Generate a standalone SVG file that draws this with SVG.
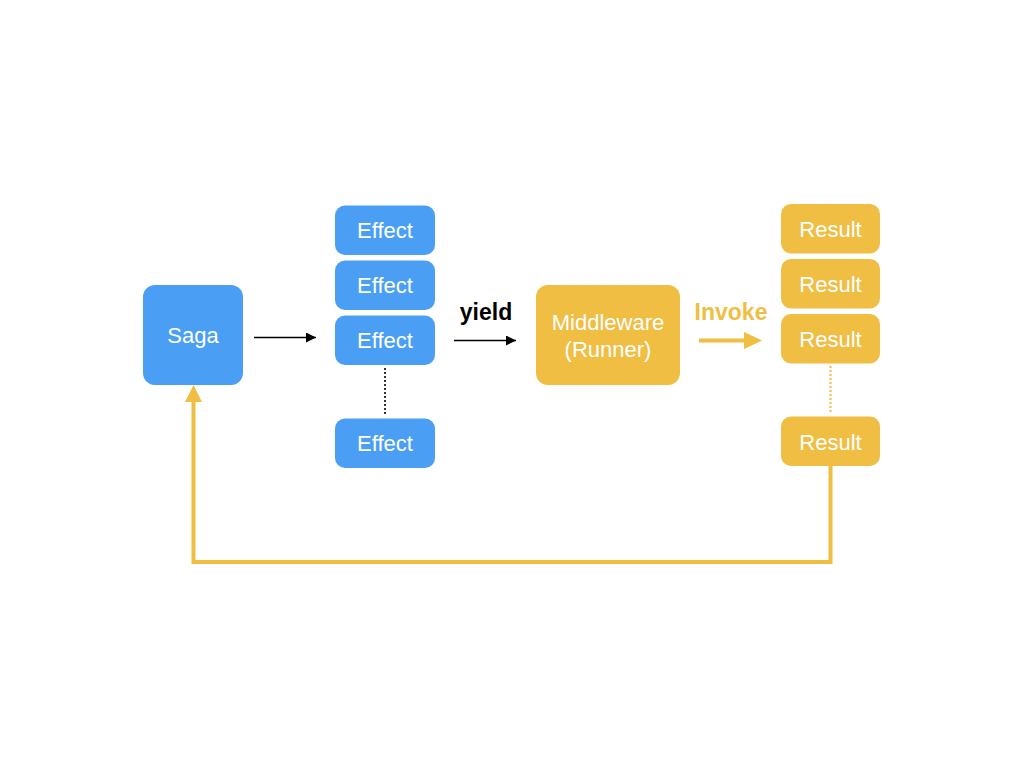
<svg xmlns="http://www.w3.org/2000/svg" width="1024" height="768" viewBox="0 0 1024 768">
<defs>
<style>
.blue{fill:#4A9FF5}
.orange{fill:#EFBE43}
.lbl{font-family:"Liberation Sans",Arial,sans-serif;font-size:22px;fill:#fff;text-anchor:middle}
.edge-label{font-family:"Liberation Sans",Arial,sans-serif;font-size:23px;font-weight:bold;text-anchor:middle}
</style>
<marker id="ah" viewBox="0 0 10 10" refX="10" refY="5" markerWidth="10" markerHeight="10" markerUnits="userSpaceOnUse" orient="auto">
<path d="M0,0 L10,5 L0,10 Z" fill="#000"/>
</marker>
</defs>
<rect width="1024" height="768" fill="#fff"/>
<g id="connectors">
<line x1="254" y1="337.5" x2="316" y2="337.5" stroke="#000" stroke-width="1.6" marker-end="url(#ah)"/>
<line x1="454" y1="340.5" x2="516" y2="340.5" stroke="#000" stroke-width="1.6" marker-end="url(#ah)"/>
<text class="edge-label" x="486" y="320" fill="#000">yield</text>
<line x1="385" y1="368" x2="385" y2="415" stroke="#333" stroke-width="2" stroke-dasharray="2,2"/>
<line x1="699" y1="340.5" x2="746" y2="340.5" stroke="#EFBE43" stroke-width="4"/>
<path d="M744,332 L762,340.5 L744,349 Z" fill="#EFBE43"/>
<text class="edge-label" x="731" y="320" fill="#EFBE43">Invoke</text>
<line x1="830.5" y1="366" x2="830.5" y2="414" stroke="#EFBE43" stroke-width="2" stroke-dasharray="2,2"/>
<polyline points="830.5,466 830.5,562 193.5,562 193.5,400" fill="none" stroke="#EFBE43" stroke-width="4"/>
<path d="M185,402 L193.5,385 L202,402 Z" fill="#EFBE43"/>
</g>
<g id="saga"><rect class="blue" x="143" y="285" width="100" height="100" rx="12"/><text class="lbl" x="193" y="343">Saga</text></g>
<g id="effect1"><rect class="blue" x="335" y="205.5" width="100" height="49.5" rx="10"/><text class="lbl" x="385" y="238">Effect</text></g>
<g id="effect2"><rect class="blue" x="335" y="260.5" width="100" height="49.5" rx="10"/><text class="lbl" x="385" y="293">Effect</text></g>
<g id="effect3"><rect class="blue" x="335" y="315.5" width="100" height="49.5" rx="10"/><text class="lbl" x="385" y="348">Effect</text></g>
<g id="effect4"><rect class="blue" x="335" y="418.5" width="100" height="49.5" rx="10"/><text class="lbl" x="385" y="451">Effect</text></g>
<g id="middleware"><rect class="orange" x="536" y="285" width="144" height="100" rx="12"/><text class="lbl" x="608" y="330">Middleware</text><text class="lbl" x="608" y="357">(Runner)</text></g>
<g id="result1"><rect class="orange" x="781" y="204" width="99" height="49.5" rx="10"/><text class="lbl" x="830.5" y="237">Result</text></g>
<g id="result2"><rect class="orange" x="781" y="259" width="99" height="49.5" rx="10"/><text class="lbl" x="830.5" y="292">Result</text></g>
<g id="result3"><rect class="orange" x="781" y="314" width="99" height="49.5" rx="10"/><text class="lbl" x="830.5" y="347">Result</text></g>
<g id="result4"><rect class="orange" x="781" y="416.5" width="99" height="49.5" rx="10"/><text class="lbl" x="830.5" y="449.5">Result</text></g>
</svg>
